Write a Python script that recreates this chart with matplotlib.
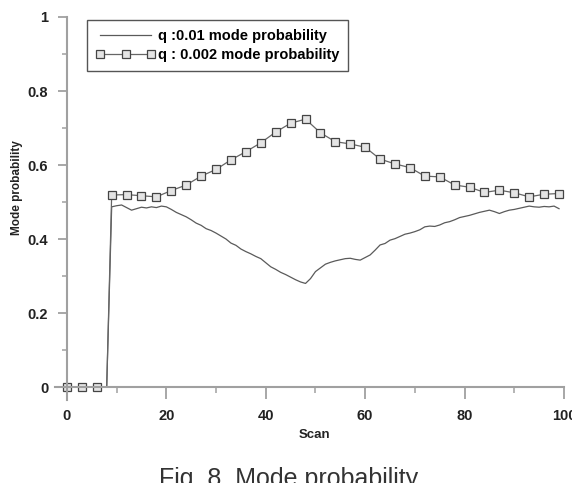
import numpy as np
import matplotlib
matplotlib.use("Agg")
import matplotlib.pyplot as plt
from matplotlib.ticker import MultipleLocator, FuncFormatter

plt.rcParams['font.family'] = ['Liberation Sans', 'DejaVu Sans']

# q = 0.01, one value per scan (0..99)
scan = np.arange(100)
q001 = [0, 0, 0, 0, 0, 0, 0, 0, 0,
        0.487, 0.490, 0.492, 0.485, 0.478, 0.482, 0.486, 0.484, 0.487, 0.485,
        0.489, 0.487, 0.480, 0.472, 0.466, 0.460, 0.452, 0.443, 0.437, 0.428,
        0.423, 0.416, 0.408, 0.400, 0.389, 0.383, 0.373, 0.366, 0.360, 0.353,
        0.347, 0.336, 0.325, 0.318, 0.310, 0.304, 0.297, 0.290, 0.284, 0.280,
        0.293, 0.312, 0.322, 0.332, 0.337, 0.341, 0.344, 0.347, 0.348, 0.345,
        0.343, 0.350, 0.357, 0.370, 0.384, 0.388, 0.397, 0.401, 0.407, 0.413,
        0.416, 0.420, 0.425, 0.433, 0.435, 0.434, 0.438, 0.444, 0.447, 0.452,
        0.458, 0.461, 0.464, 0.468, 0.472, 0.475, 0.478, 0.474, 0.469, 0.474,
        0.478, 0.480, 0.483, 0.486, 0.489, 0.487, 0.486, 0.488, 0.487, 0.489,
        0.482]

# q = 0.002, read at the markers (every 3 scans) plus the jump at scan 8
scan_sq = [0, 3, 6, 8, 9, 12, 15, 18, 21, 24, 27, 30, 33, 36, 39, 42, 45, 48,
           51, 54, 57, 60, 63, 66, 69, 72, 75, 78, 81, 84, 87, 90, 93, 96, 99]
q0002 = [0, 0, 0, 0, 0.519, 0.520, 0.517, 0.514, 0.531, 0.546, 0.570, 0.588,
         0.614, 0.636, 0.660, 0.689, 0.713, 0.724, 0.687, 0.663, 0.657, 0.648,
         0.616, 0.603, 0.593, 0.570, 0.568, 0.546, 0.540, 0.526, 0.532, 0.525,
         0.514, 0.521, 0.523]
marks = [i for i, s in enumerate(scan_sq) if s % 3 == 0]

fig = plt.figure(figsize=(5.72, 4.83), dpi=100)
ax = fig.add_axes([55/572, 1 - 400/483, 509/572, 383/483])

ax.plot(scan, q001, color='#5a5a5a', lw=0.9, label='q :0.01 mode probability')
ax.plot(scan_sq, q0002, color='#666666', lw=0.9, marker='s', markersize=5.5,
        mfc='#e4e4e4', mec='#444444', mew=0.9, markevery=marks, clip_on=False,
        label='q : 0.002 mode probability')

ax.set_xlim(-2.4, 100)
ax.set_ylim(-0.035, 1.0)

for s in ['top', 'right']:
    ax.spines[s].set_visible(False)
ax.spines['left'].set_position(('data', 0))
ax.spines['bottom'].set_position(('data', 0))
for s in ['left', 'bottom']:
    ax.spines[s].set_color('#a0a0a0')
    ax.spines[s].set_linewidth(1.5)

ax.xaxis.set_major_locator(MultipleLocator(20))
ax.xaxis.set_minor_locator(MultipleLocator(10))
ax.yaxis.set_major_locator(MultipleLocator(0.2))
ax.yaxis.set_minor_locator(MultipleLocator(0.1))
ax.yaxis.set_major_formatter(FuncFormatter(lambda v, p: '{:g}'.format(round(v, 2))))

ax.tick_params(axis='x', which='major', direction='out', length=8.6, width=1.3,
               color='#a0a0a0', pad=7, labelsize=10.5, labelcolor='#222222')
ax.tick_params(axis='x', which='minor', direction='out', length=4.3, width=1.1,
               color='#a0a0a0')
ax.tick_params(axis='y', which='major', direction='out', length=6.5, width=1.3,
               color='#a0a0a0', pad=7, labelsize=10.5, labelcolor='#222222')
ax.tick_params(axis='y', which='minor', direction='out', length=3.6, width=1.1,
               color='#a0a0a0')
for t in ax.get_xticklabels() + ax.get_yticklabels():
    t.set_fontweight('bold')

ax.set_xlabel('Scan', fontsize=9.5, fontweight='bold', color='#222222')
ax.set_ylabel('Mode probability', fontsize=8.5, fontweight='bold', color='#222222')
ax.xaxis.set_label_coords(0.51, -0.075)
ax.yaxis.set_label_coords(-0.062, 0.555)

leg = ax.legend(loc='upper left', bbox_to_anchor=(0.063, 0.992), borderaxespad=0,
                numpoints=3, handlelength=4.1, handletextpad=0.15, fancybox=False,
                framealpha=1, edgecolor='#555555', prop={'weight': 'bold', 'size': 10.5},
                labelspacing=0.35, borderpad=0.6)
leg.get_frame().set_linewidth(1.0)

fig.text(0.505, -0.006, 'Fig. 8. Mode probability', ha='center', va='baseline',
         fontsize=18, color='#333333')

plt.savefig('out.png', dpi=100)
